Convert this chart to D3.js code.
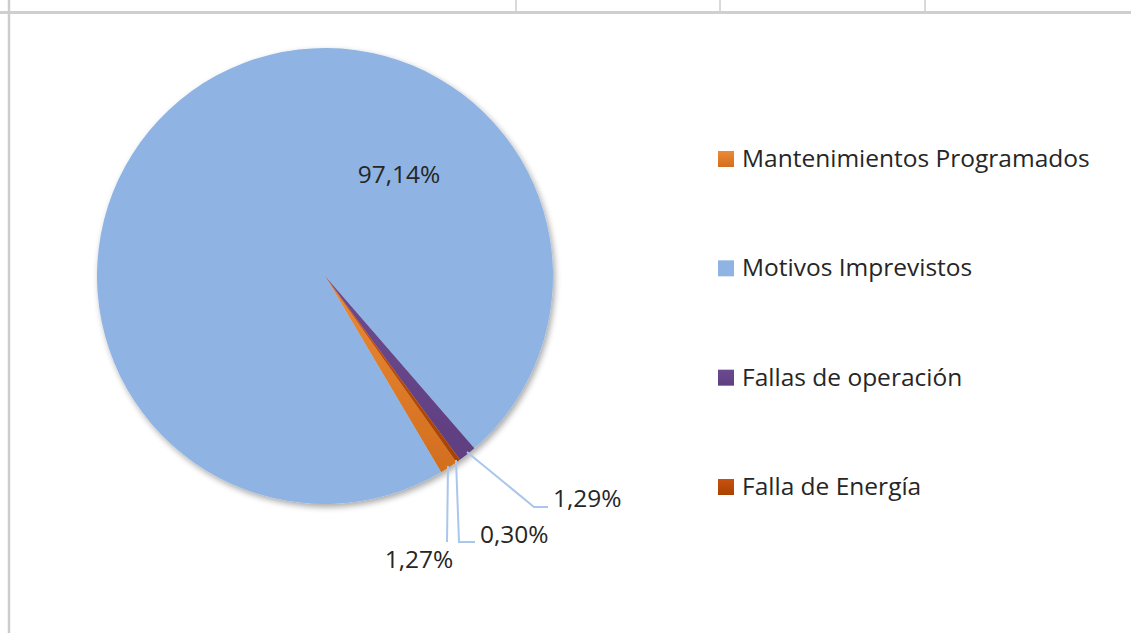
<!DOCTYPE html>
<html>
<head>
<meta charset="utf-8">
<script src="https://cdn.jsdelivr.net/npm/d3@7"></script>
<style>
  html, body { margin: 0; padding: 0; background: #fff; }
  svg { display: block; font-family: "Open Sans", "Noto Sans", sans-serif; }
</style>
</head>
<body>
<svg id="chart" width="1131" height="633"></svg>
<script>
const categories = ['Mantenimientos Programados', 'Motivos Imprevistos', 'Fallas de operación', 'Falla de Energía'];
const values = [1.27, 97.14, 1.29, 0.30];
const valueLabels = ['1,27%', '97,14%', '1,29%', '0,30%'];
const colorsTop = ['#ec8a36', '#8fb4e3', '#6c4a90', '#c85210'];
const colorsBottom = ['#d26e1e', '#8fb4e3', '#5f3f80', '#a84200'];

const width = 1131;
const height = 633;
const cx = 325;
const cy = 276;
const radius = 228;
const fontSize = 24.5;

const svg = d3.select('#chart');
const defs = svg.append('defs');

// soft shadow like the office chart
const shadow = defs.append('filter')
  .attr('id', 'shadow')
  .attr('x', '-10%').attr('y', '-10%')
  .attr('width', '125%').attr('height', '125%');
shadow.append('feGaussianBlur').attr('in', 'SourceAlpha').attr('stdDeviation', 3).attr('result', 'blur');
shadow.append('feOffset').attr('dx', 2).attr('dy', 3).attr('result', 'off');
shadow.append('feComponentTransfer').append('feFuncA').attr('type', 'linear').attr('slope', 0.35);
const merge = shadow.append('feMerge');
merge.append('feMergeNode');
merge.append('feMergeNode').attr('in', 'SourceGraphic');

categories.forEach((c, i) => {
  const grad = defs.append('linearGradient')
    .attr('id', `grad${i}`)
    .attr('x1', 0).attr('y1', 0).attr('x2', 0).attr('y2', 1);
  grad.append('stop').attr('offset', '0%').attr('stop-color', colorsTop[i]);
  grad.append('stop').attr('offset', '100%').attr('stop-color', colorsBottom[i]);
});

// spreadsheet cell borders
const grid = svg.append('g').attr('class', 'grid');
[516, 720, 925].forEach((x) => {
  grid.append('line')
    .attr('x1', x).attr('x2', x).attr('y1', 0).attr('y2', 12)
    .attr('stroke', '#d9d9d9').attr('stroke-width', 2);
});
grid.append('line')
  .attr('x1', 0).attr('x2', width).attr('y1', 12.5).attr('y2', 12.5)
  .attr('stroke', '#cfcfcf').attr('stroke-width', 3);
grid.append('line')
  .attr('x1', 9).attr('x2', 9).attr('y1', 0).attr('y2', height)
  .attr('stroke', '#cdcdcd').attr('stroke-width', 2.5);

const startAngle = 144.8 * Math.PI / 180;
const pie = d3.pie()
  .sort(null)
  .startAngle(startAngle)
  .endAngle(startAngle + 2 * Math.PI)
  .value(d => d);
const arc = d3.arc().innerRadius(0).outerRadius(radius);

const g = svg.append('g').attr('transform', `translate(${cx},${cy})`);
g.append('g')
  .attr('filter', 'url(#shadow)')
  .selectAll('path')
  .data(pie(values))
  .enter().append('path')
  .attr('d', arc)
  .attr('fill', (d, i) => `url(#grad${i})`);

// data labels with leader lines
const leaderColor = '#a9c6ec';
const leaders = [
  // [index, points, text x, text y, anchor]
  [0, [[448, 466], [447, 542]], 419, 568, 'middle'],
  [2, [[467, 452], [534, 507], [548, 507]], 553, 507, 'start'],
  [3, [[456, 460], [459, 542], [475, 542]], 480, 543, 'start']
];
const lineGen = d3.line();
leaders.forEach(([i, pts, tx, ty, anchor]) => {
  svg.append('path')
    .attr('d', lineGen(pts))
    .attr('fill', 'none')
    .attr('stroke', leaderColor)
    .attr('stroke-width', 2);
  svg.append('text')
    .attr('x', tx).attr('y', ty)
    .attr('text-anchor', anchor)
    .attr('font-size', fontSize)
    .attr('fill', '#262626')
    .text(valueLabels[i]);
});
svg.append('text')
  .attr('x', 399).attr('y', 183)
  .attr('text-anchor', 'middle')
  .attr('font-size', fontSize)
  .attr('fill', '#262626')
  .text(valueLabels[1]);

// legend
const legendY = d3.scalePoint().domain(categories).range([167, 495]);
const items = svg.append('g').attr('class', 'legend')
  .selectAll('g')
  .data(categories)
  .enter().append('g')
  .attr('transform', d => `translate(718,${legendY(d)})`);
items.append('rect')
  .attr('x', 0).attr('y', -16)
  .attr('width', 16).attr('height', 16)
  .attr('fill', (d, i) => `url(#grad${i})`);
items.append('text')
  .attr('x', 24).attr('y', 0)
  .attr('font-size', fontSize)
  .attr('fill', '#262626')
  .text(d => d);
</script>
</body>
</html>
